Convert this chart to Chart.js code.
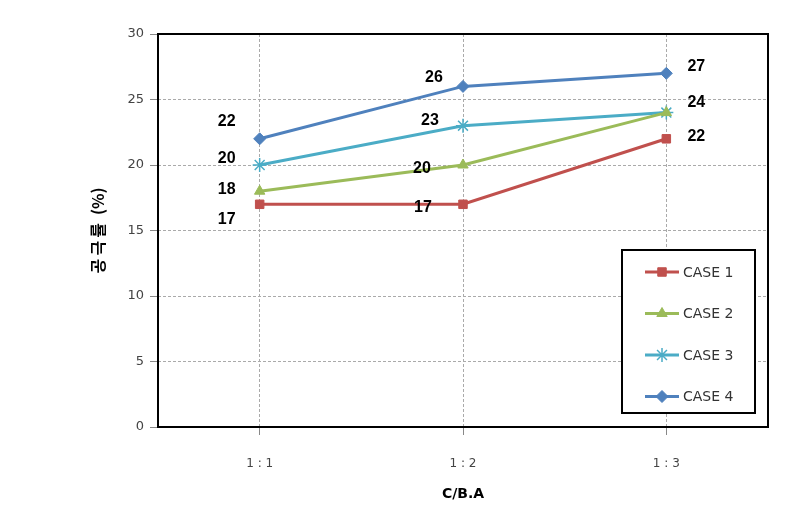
<!DOCTYPE html>
<html>
<head>
<meta charset="utf-8">
<script src="https://cdn.jsdelivr.net/npm/chart.js@4.4.0/dist/chart.umd.min.js"></script>
<style>
html,body{margin:0;padding:0;background:#fff;}
#wrap{width:812px;height:515px;}
</style>
</head>
<body>
<div id="wrap"><canvas id="c" width="812" height="515"></canvas></div>
<script>
const categories = ['1 : 1', '1 : 2', '1 : 3'];
const case1 = [17, 17, 22];
const case2 = [18, 20, 24];
const case3 = [20, 23, 24];
const case4 = [22, 26, 27];
const seriesNames = ['CASE 1', 'CASE 2', 'CASE 3', 'CASE 4'];
const yTicks = [0, 5, 10, 15, 20, 25, 30];

const colors = ['#C0504D', '#9BBB59', '#4BACC6', '#4F81BD'];
const markers = ['rect', 'triangle', 'star', 'rectRot'];
const markerSizes = [6, 6, 7, 6];

// label offsets (pixels) per series per point; null = hidden
const labelOffsets = [
  [[-33, 15], [-40, 3], [30, -2]],
  [[-33, -2], [-41, 4], null],
  [[-33, -6], [-33, -5], [30, -10]],
  [[-33, -17], [-29, -9], [30, -7]]
];

const allSeries = [case1, case2, case3, case4];

const frame = {
  id: 'frame',
  beforeDatasetsDraw(chart) {
    const {ctx, chartArea: a} = chart;
    ctx.save();
    ctx.strokeStyle = '#000';
    ctx.lineWidth = 2;
    ctx.strokeRect(a.left, a.top, a.right - a.left, a.bottom - a.top);
    ctx.restore();
  },
  afterDatasetsDraw(chart) {
    const {ctx} = chart;
    ctx.save();
    ctx.font = 'bold 16px "Liberation Sans", Arial, sans-serif';
    ctx.fillStyle = '#000';
    ctx.textAlign = 'center';
    ctx.textBaseline = 'middle';
    chart.data.datasets.forEach((ds, i) => {
      const meta = chart.getDatasetMeta(i);
      meta.data.forEach((pt, j) => {
        const off = labelOffsets[i][j];
        if (!off) return;
        ctx.fillText(String(ds.data[j]), pt.x + off[0], pt.y + off[1]);
      });
    });
    // legend
    const bx = 622, by = 250, bw = 133, bh = 163;
    ctx.fillStyle = '#fff';
    ctx.fillRect(bx, by, bw, bh);
    ctx.strokeStyle = '#000';
    ctx.lineWidth = 2;
    ctx.strokeRect(bx, by, bw, bh);
    ctx.font = '14px "DejaVu Sans", sans-serif';
    ctx.textAlign = 'left';
    for (let i = 0; i < 4; i++) {
      const y = 272 + i * 41.5;
      ctx.strokeStyle = colors[i];
      ctx.lineWidth = 3;
      ctx.beginPath();
      ctx.moveTo(645, y);
      ctx.lineTo(679, y);
      ctx.stroke();
      ctx.fillStyle = colors[i];
      ctx.strokeStyle = colors[i];
      ctx.lineWidth = i === 2 ? 1.5 : 1;
      Chart.helpers.drawPoint(ctx, {pointStyle: markers[i], radius: markerSizes[i], borderWidth: i === 2 ? 1.5 : 1}, 662, y);
      ctx.fillStyle = '#333';
      ctx.fillText(seriesNames[i], 683, y + 1);
    }
    ctx.restore();
  }
};

const datasets = allSeries.map((d, i) => ({
  label: seriesNames[i],
  data: d,
  borderColor: colors[i],
  backgroundColor: colors[i],
  borderWidth: 3,
  pointStyle: markers[i],
  pointRadius: markerSizes[i],
  pointBorderColor: colors[i],
  pointBackgroundColor: colors[i],
  pointBorderWidth: i === 2 ? 1.5 : 1,
  tension: 0
}));

new Chart(document.getElementById('c'), {
  type: 'line',
  data: {labels: categories, datasets: datasets},
  options: {
    responsive: false,
    animation: false,
    layout: {padding: {left: 88, top: 34, right: 44, bottom: 12}},
    plugins: {legend: {display: false}, tooltip: {enabled: false}},
    scales: {
      x: {
        offset: true,
        afterFit(s) { s.height = 76; },
        grid: {offset: false, color: '#aaa', drawTicks: true, tickLength: 8, tickColor: '#888', tickBorderDash: []},
        border: {display: false, dash: [3, 2]},
        ticks: {padding: 22, color: '#444', font: {family: '"DejaVu Sans", sans-serif', size: 12}},
        title: {display: true, text: 'C/B.A', color: '#000', font: {family: '"DejaVu Sans", sans-serif', size: 14, weight: 'bold'}, padding: {top: 4, bottom: 0}}
      },
      y: {
        min: 0, max: 30,
        afterFit(s) { s.width = 70; },
        afterBuildTicks(s) { s.ticks = yTicks.map(v => ({value: v})); },
        grid: {color: '#aaa', drawTicks: true, tickLength: 8, tickColor: '#888', tickBorderDash: []},
        border: {display: false, dash: [3, 2]},
        ticks: {padding: 6, color: '#444', font: {family: '"DejaVu Sans", sans-serif', size: 13}},
        title: {display: true, text: '공\u2009극\u2009률\u2002(%)', color: '#000', font: {family: '"Noto Sans CJK KR", sans-serif', size: 16, weight: 'bold'}, padding: {top: 0, bottom: 0}}
      }
    }
  },
  plugins: [frame]
});
</script>
</body>
</html>
